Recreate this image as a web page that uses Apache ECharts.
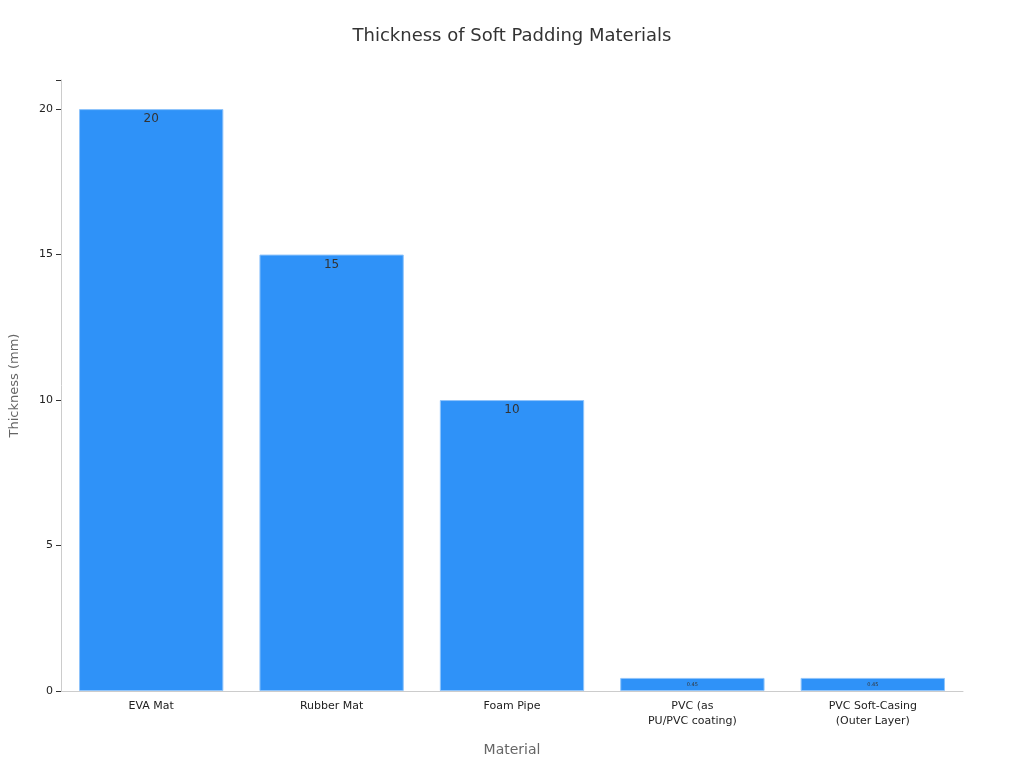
<!DOCTYPE html><html><head><meta charset="utf-8"><script src="https://cdn.jsdelivr.net/npm/echarts@6/dist/echarts.min.js"></script></head><body style="margin:0"><div id="c" style="width:1024px;height:768px"></div><script>
const categories=["EVA Mat","Rubber Mat","Foam Pipe","PVC (as\nPU/PVC coating)","PVC Soft-Casing\n(Outer Layer)"];
const values=[20,15,10,0.45,0.45];
const yTicks=[0,5,10,15,20];
const ch=echarts.init(document.getElementById('c'));
ch.setOption({
title:{text:"Thickness of Soft Padding Materials",left:'center',top:22,textStyle:{fontFamily:'DejaVu Sans',fontSize:18,fontWeight:'normal',color:'#333'}},
grid:{left:60,right:61,top:80,bottom:77},
xAxis:{type:'category',data:categories,name:'Material',nameLocation:'middle',nameGap:52,nameTextStyle:{fontFamily:'DejaVu Sans',fontSize:14,color:'#666'},axisLine:{lineStyle:{color:'#ccc'}},axisTick:{alignWithLabel:true,lineStyle:{color:'#333'}},axisLabel:{fontFamily:'DejaVu Sans',fontSize:11,color:'#222',lineHeight:15}},
yAxis:{type:'value',min:0,max:21,interval:5,name:'Thickness (mm)',nameLocation:'middle',nameGap:40,nameTextStyle:{fontFamily:'DejaVu Sans',fontSize:13,color:'#666'},axisLine:{show:true,lineStyle:{color:'#ccc'}},axisTick:{show:true,lineStyle:{color:'#333'}},splitLine:{show:false},axisLabel:{fontFamily:'DejaVu Sans',fontSize:11,color:'#222',formatter:v=>yTicks.includes(v)?v:''}},
series:[{type:'bar',data:values.map(v=>({value:v,label:{fontSize:v<1?5:12}})),barWidth:'80%',itemStyle:{color:'#2f92f8',borderColor:'#8fc4fb',borderWidth:1},label:{show:true,position:'insideTop',distance:4,color:'#333',fontFamily:'DejaVu Sans',fontSize:12}}]
});
</script></body></html>
